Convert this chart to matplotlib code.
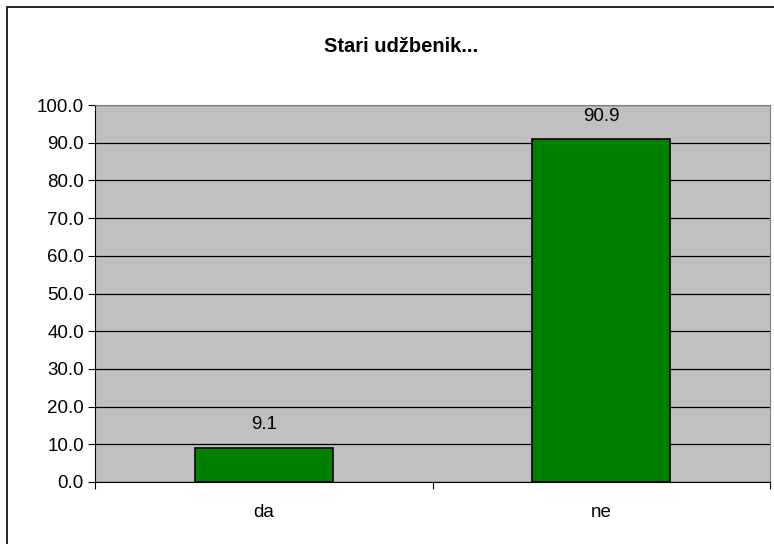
import matplotlib.pyplot as plt
from matplotlib.patches import Rectangle

plt.rcParams['font.family'] = ['Liberation Sans', 'DejaVu Sans']

categories = ['da', 'ne']
values = [9.1, 90.9]
yticks = [0, 10, 20, 30, 40, 50, 60, 70, 80, 90, 100]

W, H = 774, 544
fig = plt.figure(figsize=(W / 100, H / 100), dpi=100)

# outer chart border (right/bottom edges fall off the image)
fig.patches.append(Rectangle((7 / W, -0.05), 1.1, 1 - 7 / H + 0.05,
                             transform=fig.transFigure, fill=False,
                             edgecolor='black', linewidth=1.2))

ax = fig.add_axes([95 / W, 1 - 482 / H, (770 - 95) / W, (482 - 105) / H])
ax.set_facecolor('#C0C0C0')

x = range(len(categories))
ax.bar(x, values, width=0.41, color='#008000', edgecolor='black', linewidth=1.2, zorder=3)
for i, v in enumerate(values):
    ax.text(i, v + 6.1, f'{v:.1f}', ha='center', va='center', fontsize=13.5)

ax.set_xlim(-0.5, len(categories) - 0.5)
ax.set_ylim(0, 100)
ax.set_yticks(yticks)
ax.set_yticklabels([f'{t:.1f}' for t in yticks], fontsize=13.5)
ax.yaxis.grid(True, color='black', linewidth=0.9, zorder=1)
ax.set_axisbelow(True)

ax.set_xticks([-0.5, 0.5, 1.5])
ax.set_xticklabels([])
ax.set_xticks(list(x), minor=True)
ax.set_xticklabels(categories, minor=True, fontsize=13.5)
ax.tick_params(axis='x', which='minor', length=0, pad=16)
ax.tick_params(axis='x', which='major', length=5, direction='out', color='black')
ax.tick_params(axis='y', length=5, direction='out', pad=3)

for s in ['top', 'right']:
    ax.spines[s].set_color('#808080')
for s in ['left', 'bottom']:
    ax.spines[s].set_color('black')

fig.text(401 / W, 1 - 47 / H, 'Stari udžbenik...', ha='center', va='center',
         fontsize=14.5, fontweight='bold')

fig.savefig('out.png', dpi=100)
